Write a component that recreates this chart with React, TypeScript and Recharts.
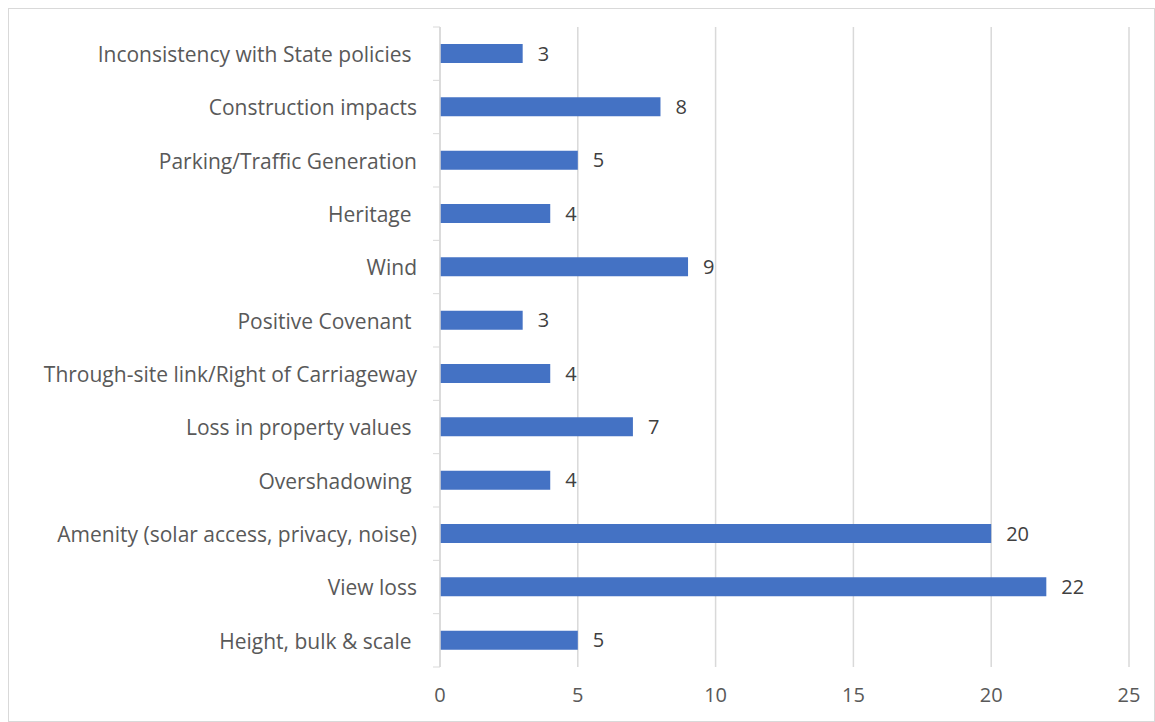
import React from 'react'
import { BarChart, Bar, XAxis, YAxis, CartesianGrid, LabelList } from 'recharts'

// top to bottom, as drawn
const categories = [
  'Inconsistency with State policies ',
  'Construction impacts',
  'Parking/Traffic Generation',
  'Heritage ',
  'Wind',
  'Positive Covenant ',
  'Through-site link/Right of Carriageway',
  'Loss in property values ',
  'Overshadowing ',
  'Amenity (solar access, privacy, noise)',
  'View loss',
  'Height, bulk & scale ',
]
const counts = [3, 8, 5, 4, 9, 3, 4, 7, 4, 20, 22, 5]
const xTicks = [0, 5, 10, 15, 20, 25]

const data = categories.map((name, i) => ({ name, count: counts[i] }))

const W = 1145
const H = 712
const margin = { top: 18, right: 25, left: 0, bottom: 24 }
const X_AXIS_H = 30
const plotH = H - margin.top - margin.bottom - X_AXIS_H
const band = plotH / categories.length

const FONT = '"Open Sans", sans-serif'
const GRID = '#d9d9d9'

const CategoryTick = (props: any) => {
  const { x, y, payload, index } = props
  const last = index === categories.length - 1
  return (
    <g>
      <line x1={x - 7} x2={x} y1={y - band / 2} y2={y - band / 2} stroke={GRID} />
      {last && <line x1={x - 7} x2={x} y1={y + band / 2} y2={y + band / 2} stroke={GRID} />}
      <text
        x={x - 23}
        y={y}
        dy="0.4em"
        textAnchor="end"
        fill="#595959"
        fontSize={21}
        fontFamily={FONT}
        style={{ whiteSpace: 'pre' }}
      >
        {payload.value}
      </text>
    </g>
  )
}

export default function App() {
  return (
    <div
      style={{
        position: 'absolute',
        left: 8,
        top: 8,
        width: W + 2,
        height: H + 2,
        border: `1px solid ${GRID}`,
        boxSizing: 'border-box',
        background: '#fff',
      }}
    >
      <BarChart width={W} height={H} data={data} layout="vertical" margin={margin}>
        <CartesianGrid horizontal={false} stroke={GRID} strokeWidth={1.5} />
        <XAxis
          type="number"
          domain={[0, 25]}
          ticks={xTicks}
          axisLine={false}
          tickLine={false}
          tickSize={0}
          tickMargin={21}
          height={X_AXIS_H}
          tick={{ fill: '#595959', fontSize: 20, fontFamily: FONT }}
        />
        <YAxis
          type="category"
          dataKey="name"
          width={431}
          axisLine={{ stroke: GRID, strokeWidth: 1.5 }}
          tickLine={false}
          tickSize={0}
          tickMargin={0}
          interval={0}
          tick={<CategoryTick />}
        />
        <Bar dataKey="count" fill="#4472C4" barSize={19} isAnimationActive={false}>
          <LabelList
            dataKey="count"
            position="right"
            offset={15}
            fill="#404040"
            fontSize={20}
            fontFamily={FONT}
          />
        </Bar>
      </BarChart>
    </div>
  )
}
